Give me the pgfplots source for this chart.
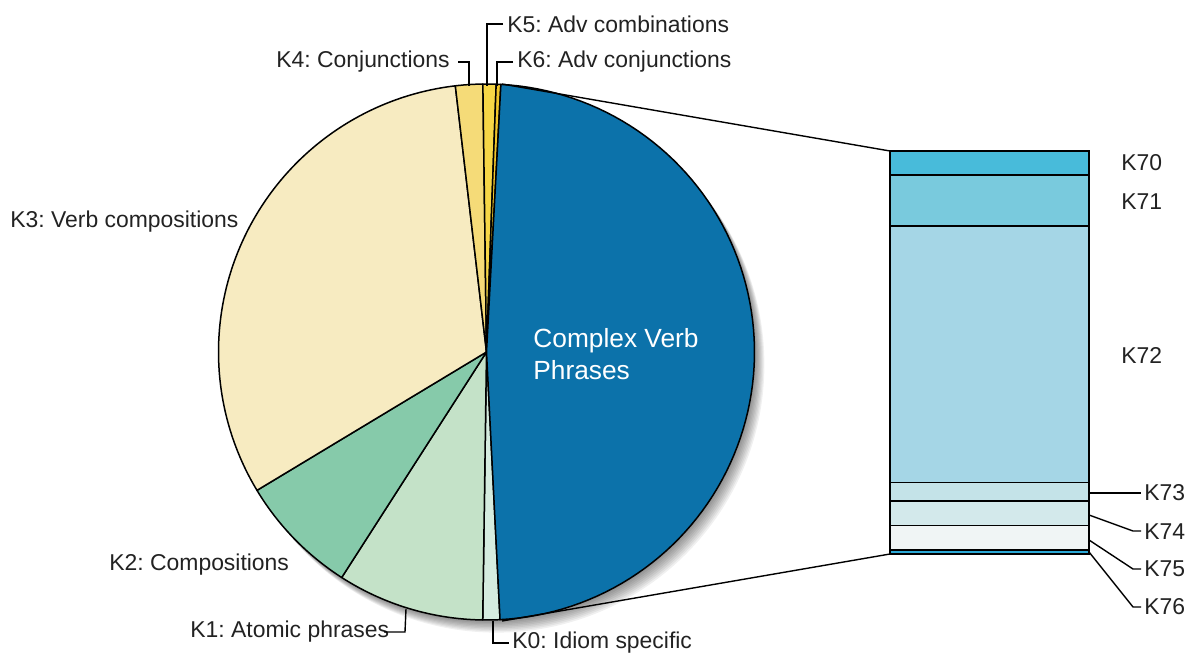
\documentclass[border=0pt]{standalone}
\usepackage{fontspec}
\setmainfont{Liberation Sans}
\usepackage{pgfplots}
\usepackage{pgfplotstable}
\pgfplotsset{compat=1.18}
\usepgfplotslibrary{polar}
\frenchspacing

\definecolor{cK0}{HTML}{D5ECDF}
\definecolor{cK1}{HTML}{C4E2C8}
\definecolor{cK2}{HTML}{86CAAA}
\definecolor{cK3}{HTML}{F7EBC1}
\definecolor{cK4}{HTML}{F5DB78}
\definecolor{cK5}{HTML}{F6D646}
\definecolor{cK6}{HTML}{F0C52A}
\definecolor{cK7}{HTML}{0C72AA}
\definecolor{cK70}{HTML}{48BBDA}
\definecolor{cK71}{HTML}{79CADD}
\definecolor{cK72}{HTML}{A5D6E6}
\definecolor{cK73}{HTML}{C4E3E8}
\definecolor{cK74}{HTML}{D3E9EB}
\definecolor{cK75}{HTML}{F0F5F5}
\definecolor{cK76}{HTML}{2BA8D6}
\definecolor{txt}{HTML}{222222}

\newcommand\lblfont{\fontsize{11.5}{13}\selectfont}
\newcommand\bigfont{\fontsize{13.2}{16}\selectfont}

% pie shares in percent, clockwise from K0
\pgfplotstableread{
label pct
K0 1.03
K1 8.86
K2 7.28
K3 31.78
K4 1.64
K5 0.79
K6 0.28
K7 48.34
}\piedata

% breakdown of K7 in percent, bottom to top
\pgfplotstableread{
label pct
K76 1.0
K75 6.1
K74 6.0
K73 4.6
K72 63.7
K71 12.7
K70 5.9
}\bardata

\gdef\cumpct{0}

\begin{document}
\begin{tikzpicture}
% ---------------- pie ----------------
\begin{polaraxis}[
  at={(243.25bp,151bp)}, anchor=center,
  width=268bp, height=268bp, scale only axis,
  hide axis, clip=false,
  xmin=0, xmax=360, ymin=0, ymax=1,
]
\pgfplotsinvokeforeach{1,...,9}{
  \fill[black, opacity=0.06] ([shift={(#1*0.55bp,-#1*0.7bp)}]axis cs:0,0) circle[radius=134bp];
}
\pgfplotsinvokeforeach{0,...,7}{
  \pgfplotstablegetelem{#1}{pct}\of\piedata
  \pgfmathsetmacro\sa{272.9-3.6*\cumpct}
  \pgfmathsetmacro\newcum{\cumpct+\pgfplotsretval}
  \global\let\cumpct\newcum
  \pgfmathsetmacro\ea{272.9-3.6*\cumpct}
  \edef\doslice{\noexpand\addplot[draw=black, line width=0.75bp, line join=round, fill=cK#1, domain=\ea:\sa, samples=90] {1} -- (axis cs:0,0) -- cycle;}
  \doslice
}
\end{polaraxis}

% ---------------- labels and leader lines (pixel coordinates) ----------------
\begin{axis}[
  at={(0,0)}, anchor=south west,
  width=593bp, height=327bp, scale only axis,
  hide axis, clip=false,
  xmin=0, xmax=1186, ymin=0, ymax=654, y dir=reverse,
]
\node[anchor=west, font=\bigfont, text=white, align=left, inner sep=0pt] at (axis cs:533,354) {Complex Verb\\Phrases};

\node[anchor=west, font=\lblfont, text=txt, inner sep=0pt] at (axis cs:10,222) {K3: Verb compositions};
\node[anchor=west, font=\lblfont, text=txt, inner sep=0pt] at (axis cs:109,565) {K2: Compositions};
\node[anchor=west, font=\lblfont, text=txt, inner sep=0pt] at (axis cs:190,632) {K1: Atomic phrases};
\node[anchor=west, font=\lblfont, text=txt, inner sep=0pt] at (axis cs:276,62) {K4: Conjunctions};
\node[anchor=west, font=\lblfont, text=txt, inner sep=0pt] at (axis cs:507,24) {K5: Adv combinations};
\node[anchor=west, font=\lblfont, text=txt, inner sep=0pt] at (axis cs:517,62) {K6: Adv conjunctions};
\node[anchor=west, font=\lblfont, text=txt, inner sep=0pt] at (axis cs:512,643) {K0: Idiom specific};

\begin{scope}[line width=0.7bp]
\draw (axis cs:458,62) -- (axis cs:469,62) -- (axis cs:469,86);
\draw (axis cs:503,24) -- (axis cs:487,24) -- (axis cs:487,86);
\draw (axis cs:513,62) -- (axis cs:497,62) -- (axis cs:497,86);
\draw (axis cs:493,621) -- (axis cs:493,643) -- (axis cs:509,643);
\draw (axis cs:384,632) -- (axis cs:405,632) -- (axis cs:406,609);

% connectors pie -> bar
\draw (axis cs:502,84) -- (axis cs:890,151);
\draw (axis cs:502,621) -- (axis cs:890,554);

\draw (axis cs:1089,493) -- (axis cs:1141,493);
\draw (axis cs:1089,515) -- (axis cs:1133,531) -- (axis cs:1141,531);
\draw (axis cs:1089,540) -- (axis cs:1133,569) -- (axis cs:1141,569);
\draw (axis cs:1089,552) -- (axis cs:1133,607) -- (axis cs:1141,607);
\end{scope}

% bar labels
\node[anchor=west, font=\lblfont, text=txt, inner sep=0pt] at (axis cs:1121,163) {K70};
\node[anchor=west, font=\lblfont, text=txt, inner sep=0pt] at (axis cs:1121,202) {K71};
\node[anchor=west, font=\lblfont, text=txt, inner sep=0pt] at (axis cs:1121,355) {K72};
\node[anchor=west, font=\lblfont, text=txt, inner sep=0pt] at (axis cs:1144,493) {K73};
\node[anchor=west, font=\lblfont, text=txt, inner sep=0pt] at (axis cs:1144,532) {K74};
\node[anchor=west, font=\lblfont, text=txt, inner sep=0pt] at (axis cs:1144,569) {K75};
\node[anchor=west, font=\lblfont, text=txt, inner sep=0pt] at (axis cs:1144,607) {K76};
\end{axis}

% ---------------- stacked bar ----------------
\begin{axis}[
  at={(445bp,50bp)}, anchor=south west,
  width=99.5bp, height=201.5bp, scale only axis,
  hide axis, clip=false,
  ybar stacked, bar width=99.5bp,
  xmin=-0.5, xmax=0.5, ymin=0, ymax=100,
  every axis plot/.append style={draw=black, line width=0.75bp},
]
\addplot[fill=cK76] table[x expr=0, y=pct, skip coords between index={1}{7}] {\bardata};
\addplot[fill=cK75] table[x expr=0, y=pct, skip coords between index={0}{1}, skip coords between index={2}{7}] {\bardata};
\addplot[fill=cK74] table[x expr=0, y=pct, skip coords between index={0}{2}, skip coords between index={3}{7}] {\bardata};
\addplot[fill=cK73] table[x expr=0, y=pct, skip coords between index={0}{3}, skip coords between index={4}{7}] {\bardata};
\addplot[fill=cK72] table[x expr=0, y=pct, skip coords between index={0}{4}, skip coords between index={5}{7}] {\bardata};
\addplot[fill=cK71] table[x expr=0, y=pct, skip coords between index={0}{5}, skip coords between index={6}{7}] {\bardata};
\addplot[fill=cK70] table[x expr=0, y=pct, skip coords between index={0}{6}] {\bardata};
\end{axis}

\pgfresetboundingbox
\path (0,0) rectangle (593bp,327bp);
\end{tikzpicture}
\end{document}
